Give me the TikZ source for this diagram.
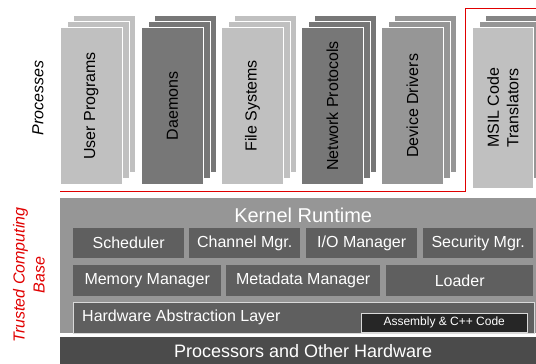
\documentclass[tikz,border=0pt]{standalone}
\usepackage{fontspec}
\setmainfont{Liberation Sans}
\usetikzlibrary{positioning,calc}

\definecolor{cardlight}{HTML}{C0C0C0}
\definecolor{carddark}{HTML}{777777}
\definecolor{cardmid}{HTML}{969696}
\definecolor{cardback}{HTML}{858585}
\definecolor{kernelgray}{HTML}{969696}
\definecolor{boxgray}{HTML}{5F5F5F}
\definecolor{paleline}{HTML}{D9D9D9}
\definecolor{asmblack}{HTML}{262626}
\definecolor{hwgray}{HTML}{4B4B4B}
\definecolor{tcbred}{HTML}{E00000}

\begin{document}
\begin{tikzpicture}[x=1pt, y=-1pt,
    card/.style={draw=white, line width=0.8pt, minimum width=62pt, minimum height=157pt, inner sep=0pt, anchor=north west},
    cardtext/.style={rotate=90, align=center, font=\fontsize{16}{19.5}\selectfont},
    kbox/.style={fill=boxgray, text=white, minimum height=30pt, inner sep=0pt, anchor=north west, font=\fontsize{16}{18}\selectfont}]
    \useasboundingbox (0,0) rectangle (536,364);

    % process stacks
    \foreach \x/\c/\n/\t in {60/cardlight/user/User Programs, 141/carddark/daemons/Daemons, 221/cardlight/files/File Systems, 301/carddark/network/Network Protocols, 381/cardmid/drivers/Device Drivers}{
        \node[card, fill=\c] (\n-2) at (\x+13,15) {};
        \node[card, fill=\c] (\n-1) at (\x+6.5,21) {};
        \node[card, fill=\c] (\n) at (\x,27) {};
        \node[cardtext] at (\n) {\t};
    }
    \node[card, fill=cardback] (msil-2) at (485,15) {};
    \node[card, fill=cardmid] (msil-1) at (478.5,21) {};
    \node[card, fill=cardlight, minimum width=61pt, minimum height=161pt] (msil) at (472,27) {};
    \node[cardtext] at (msil) {MSIL Code\\Translators};

    \draw[tcbred, line width=1pt] (60,191) -| (465,8) -- (536,8);

    % kernel
    \node[fill=kernelgray, minimum width=486pt, minimum height=135pt, inner sep=0pt, anchor=north west] (kernel) at (60,198) {};
    \node[text=white, font=\fontsize{20}{22}\selectfont] (runtime) at ($(kernel.north)+(0,17)$) {Kernel Runtime};

    \node[kbox, minimum width=111pt] (sched) at (73,228) {Scheduler};
    \node[kbox, minimum width=111pt] (channel) at (189,228) {Channel Mgr.};
    \node[kbox, minimum width=111pt] (io) at (306,228) {I/O Manager};
    \node[kbox, minimum width=110pt] (security) at (423,228) {Security Mgr.};

    \node[kbox, minimum width=148pt, minimum height=31pt] (memory) at (73,265) {Memory Manager};
    \node[kbox, minimum width=154pt, minimum height=31pt] (metadata) at (226,265) {Metadata Manager};
    \node[kbox, minimum width=147pt, minimum height=31pt] (loader) at (386,265) {Loader};

    \node[kbox, draw=paleline, minimum width=461pt, minimum height=31pt] (hal) at (72.5,301.5) {};
    \node[anchor=west, text=white, inner sep=0pt, font=\fontsize{16}{18}\selectfont] (haltext) at ($(hal.west)+(9.5,0)$) {Hardware Abstraction Layer};
    \node[fill=asmblack, draw=paleline, minimum width=166pt, minimum height=19pt, inner sep=0pt, anchor=north west, text=white, font=\fontsize{12}{14}\selectfont] (asm) at (361,313) {Assembly \& C++ Code};

    % hardware
    \node[fill=hwgray, minimum width=486pt, minimum height=27pt, inner sep=0pt, anchor=north west, text=white, font=\fontsize{18}{20}\selectfont] (hw) at (60,337) {Processors and Other Hardware};

    % side labels
    \node[rotate=90, font=\itshape\fontsize{16}{18}\selectfont] (proclabel) at (38,98) {Processes};
    \node[rotate=90, text=tcbred, align=center, font=\itshape\fontsize{16}{20}\selectfont] (tcb) at (29,275) {Trusted Computing\\Base};
\end{tikzpicture}
\end{document}
